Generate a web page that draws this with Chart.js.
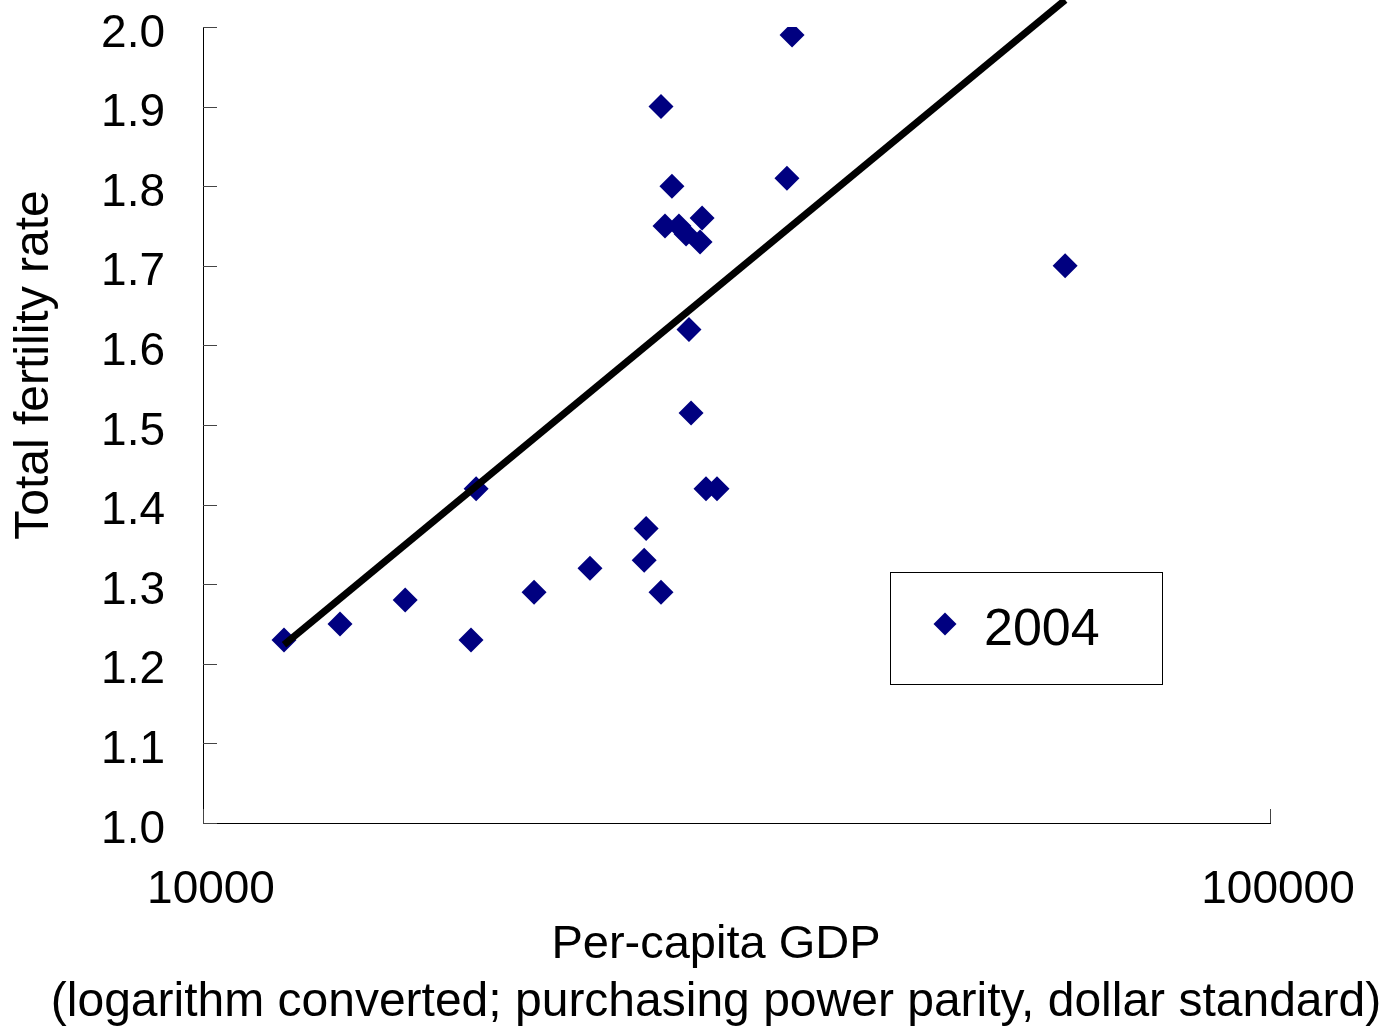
<!DOCTYPE html>
<html>
<head>
<meta charset="utf-8">
<script src="https://cdn.jsdelivr.net/npm/chart.js@4.4.0/dist/chart.umd.min.js"></script>
<style>
body { margin: 0; background: #fff; }
</style>
</head>
<body>
<canvas id="grafico" width="1386" height="1030"></canvas>
<script>
// dados
var serieNome = "2004"
var gdp = [11910, 13440, 15470, 17830, 18030, 20430, 23050, 25910, 26020, 26870, 26870, 27100, 27510, 27930, 28360, 28540, 28670, 29230, 29360, 29610, 30320, 35260, 35650, 64270]
var fertilidade = [1.23, 1.25, 1.28, 1.23, 1.42, 1.29, 1.32, 1.33, 1.37, 1.29, 1.90, 1.75, 1.80, 1.75, 1.74, 1.62, 1.515, 1.73, 1.76, 1.42, 1.42, 1.81, 1.99, 1.70]
var tendenciaGdp = [11910, 64270]
var tendenciaTaxa = [1.224, 2.034]
var xTicks = [10000, 100000]
var yTicks = [1.0, 1.1, 1.2, 1.3, 1.4, 1.5, 1.6, 1.7, 1.8, 1.9, 2.0]

var tituloY = "Total fertility rate"
var tituloX = ["Per-capita GDP", "(logarithm converted; purchasing power parity, dollar standard)"]

var fonte = "'Liberation Sans', Arial, sans-serif"
var azul = "#000080"

var pontos = gdp.map(function (g, i) { return { x: g, y: fertilidade[i] } })
var linha = tendenciaGdp.map(function (g, i) { return { x: g, y: tendenciaTaxa[i] } })

// ticks para dentro, titulos e legenda
var extras = {
    id: 'extras',
    afterDraw: function (chart) {
        var ctx = chart.ctx
        var area = chart.chartArea
        var sy = chart.scales.y
        var sx = chart.scales.x
        ctx.save()
        ctx.strokeStyle = '#444'
        ctx.lineWidth = 1
        yTicks.forEach(function (v) {
            var py = Math.round(sy.getPixelForValue(v)) + 0.5
            ctx.beginPath()
            ctx.moveTo(area.left, py)
            ctx.lineTo(area.left + 14, py)
            ctx.stroke()
        })
        xTicks.forEach(function (v) {
            var px = Math.round(sx.getPixelForValue(v)) + 0.5
            ctx.beginPath()
            ctx.moveTo(px, area.bottom)
            ctx.lineTo(px, area.bottom - 14)
            ctx.stroke()
        })

        ctx.fillStyle = '#000'
        ctx.textAlign = 'center'
        ctx.textBaseline = 'middle'
        ctx.font = "47px " + fonte
        ctx.fillText(tituloX[0], 716, 945)
        ctx.font = "48px " + fonte
        ctx.fillText(tituloX[1], 716, 1003)

        ctx.save()
        ctx.font = "48px " + fonte
        ctx.translate(35, 365)
        ctx.rotate(-Math.PI / 2)
        ctx.fillText(tituloY, 0, 0)
        ctx.restore()

        // legenda
        ctx.strokeStyle = '#000'
        ctx.strokeRect(890.5, 572.5, 272, 112)
        ctx.fillStyle = azul
        ctx.beginPath()
        ctx.moveTo(945, 612.5)
        ctx.lineTo(956.5, 624)
        ctx.lineTo(945, 635.5)
        ctx.lineTo(933.5, 624)
        ctx.closePath()
        ctx.fill()
        ctx.fillStyle = '#000'
        ctx.font = "52px " + fonte
        ctx.textAlign = 'left'
        ctx.fillText(chart.data.datasets[0].label, 984, 631)
        ctx.restore()
    }
}

new Chart(document.getElementById('grafico'), {
    type: 'scatter',
    data: {
        datasets: [
            {
                label: serieNome,
                data: pontos,
                backgroundColor: azul,
                borderColor: azul,
                pointStyle: 'rectRot',
                pointRadius: 12.5,
                pointHoverRadius: 12.5,
                borderWidth: 0,
                order: 2
            },
            {
                label: 'trend',
                type: 'line',
                data: linha,
                borderColor: '#000',
                borderWidth: 7,
                pointRadius: 0,
                fill: false,
                clip: false,
                order: 1
            }
        ]
    },
    options: {
        responsive: false,
        animation: false,
        layout: { padding: { top: 27, right: 116, left: 0, bottom: 0 } },
        plugins: {
            legend: { display: false },
            tooltip: { enabled: false }
        },
        scales: {
            x: {
                type: 'logarithmic',
                min: 10000,
                max: 100000,
                afterBuildTicks: function (scale) {
                    scale.ticks = xTicks.map(function (v) { return { value: v } })
                },
                afterFit: function (scale) {
                    scale.height = 207
                    scale.paddingLeft = 0
                    scale.paddingRight = 0
                },
                grid: { display: true, drawOnChartArea: false, drawTicks: false },
                border: { color: '#000', width: 1 },
                ticks: {
                    color: '#000',
                    font: { family: fonte, size: 46 },
                    padding: 40,
                    labelOffset: 8,
                    maxRotation: 0,
                    callback: function (v) { return String(v) }
                }
            },
            y: {
                min: 1.0,
                max: 2.0,
                afterBuildTicks: function (scale) {
                    scale.ticks = yTicks.map(function (v) { return { value: v } })
                },
                afterFit: function (scale) {
                    scale.width = 203
                    scale.paddingTop = 0
                    scale.paddingBottom = 0
                },
                grid: { display: true, drawOnChartArea: false, drawTicks: false },
                border: { color: '#000', width: 1 },
                ticks: {
                    color: '#000',
                    font: { family: fonte, size: 46 },
                    padding: 38,
                    labelOffset: 7,
                    callback: function (v) { return Number(v).toFixed(1) }
                }
            }
        }
    },
    plugins: [extras]
})
</script>
</body>
</html>
